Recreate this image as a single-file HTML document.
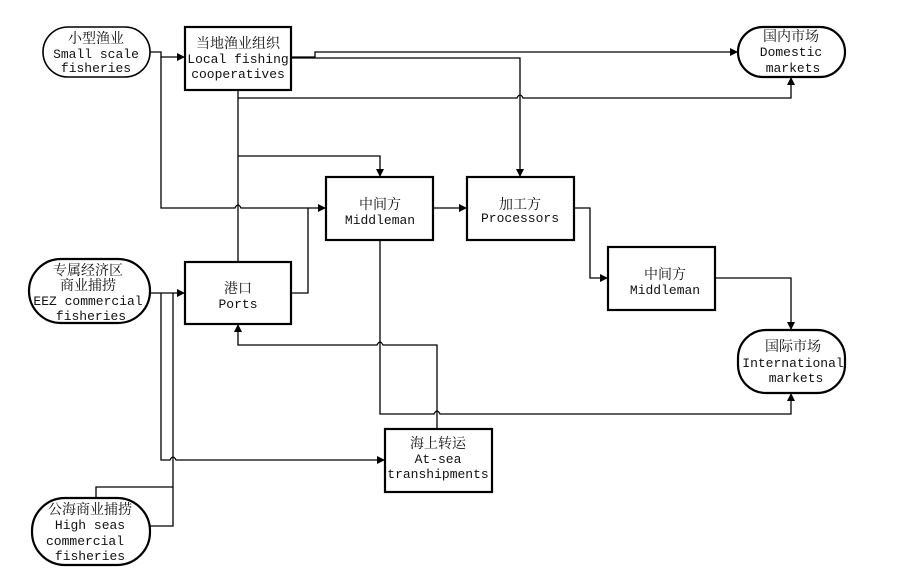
<!DOCTYPE html>
<html><head><meta charset="utf-8"><style>
body{margin:0;background:#fff;}
svg text{font-family:"Liberation Mono","Noto Serif CJK SC","Noto Sans CJK SC",monospace;font-size:13px;fill:#111;text-anchor:middle;}
.c{font-family:"Noto Serif CJK SC","Noto Sans CJK SC",serif;font-size:14px;}
</style></head><body>
<svg width="909" height="579" viewBox="0 0 909 579" xmlns="http://www.w3.org/2000/svg">
<defs><marker id="a" markerWidth="8" markerHeight="8" refX="7" refY="4" orient="auto" markerUnits="userSpaceOnUse"><path d="M0,0 L8,4 L0,8z" fill="#000"/></marker></defs>
<g fill="none" stroke="#000" stroke-width="1.6">
<!-- nodes -->
<rect x="43" y="27" width="107" height="50" rx="25"/>
<rect x="185" y="27" width="106" height="63" stroke-width="2.2"/>
<rect x="738" y="27" width="107" height="50" rx="25" stroke-width="2.2"/>
<rect x="326" y="177" width="107" height="63" stroke-width="2.2"/>
<rect x="467" y="177" width="107" height="63" stroke-width="2.2"/>
<rect x="608" y="247" width="107" height="63" stroke-width="2.2"/>
<rect x="738" y="330" width="107" height="63" rx="28" stroke-width="2.2"/>
<rect x="185" y="262" width="106" height="62" stroke-width="2.2"/>
<rect x="29" y="259" width="121" height="64" rx="32" stroke-width="2.2"/>
<rect x="385" y="429" width="107" height="63" stroke-width="2.2"/>
<rect x="32" y="498" width="118" height="67" rx="33" stroke-width="2.2"/>
</g>
<g fill="none" stroke="#000" stroke-width="1.3">
<path d="M150,52 H161 V57 H184" marker-end="url(#a)"/>
<path d="M161,57 V208 H235 q3,-6 6,0 H308"/>
<path d="M291,293 H308 V208 H325" marker-end="url(#a)"/>
<path d="M291,57 H315 V52 H737" marker-end="url(#a)"/>
<path d="M291,58 H520 V176" marker-end="url(#a)"/>
<path d="M238,90 V262"/>
<path d="M238,98 H517 q3,-6 6,0 H791 V78" marker-end="url(#a)"/>
<path d="M238,156 H380 V176" marker-end="url(#a)"/>
<path d="M433,208 H466" marker-end="url(#a)"/>
<path d="M574,208 H590 V278 H607" marker-end="url(#a)"/>
<path d="M715,278 H791 V329" marker-end="url(#a)"/>
<path d="M380,240 V414 H434 q3,-6 6,0 H791 V394" marker-end="url(#a)"/>
<path d="M437,429 V345 H383 q-3,-6 -6,0 H238 V325" marker-end="url(#a)"/>
<path d="M150,293 H184" marker-end="url(#a)"/>
<path d="M161,293 V460 H170 q3,-6 6,0 H384" marker-end="url(#a)"/>
<path d="M173,293 V526 H150"/>
<path d="M96,498 V487 H173"/>
</g>
<text class="c" x="96" y="43">小型渔业</text>
<text x="96" y="58">Small scale</text>
<text x="96" y="72">fisheries</text>
<text class="c" x="238" y="48">当地渔业组织</text>
<text x="238" y="63">Local fishing</text>
<text x="238" y="78">cooperatives</text>
<text class="c" x="791" y="41">国内市场</text>
<text x="791" y="56">Domestic</text>
<text x="793" y="72">markets</text>
<text class="c" x="380" y="209">中间方</text>
<text x="380" y="224">Middleman</text>
<text class="c" x="520" y="209">加工方</text>
<text x="520" y="222">Processors</text>
<text class="c" x="665" y="279">中间方</text>
<text x="665" y="294">Middleman</text>
<text class="c" x="793" y="351">国际市场</text>
<text x="793" y="367">International</text>
<text x="796" y="382">markets</text>
<text class="c" x="238" y="293">港口</text>
<text x="238" y="308">Ports</text>
<text class="c" x="88" y="275">专属经济区</text>
<text class="c" x="88" y="290">商业捕捞</text>
<text x="88" y="305">EEZ commercial</text>
<text x="91" y="320">fisheries</text>
<text class="c" x="438" y="448">海上转运</text>
<text x="438" y="463">At-sea</text>
<text x="438" y="478">transhipments</text>
<text class="c" x="90" y="514">公海商业捕捞</text>
<text x="90" y="529">High seas</text>
<text x="85" y="545">commercial</text>
<text x="90" y="560">fisheries</text>
</svg>
</body></html>
